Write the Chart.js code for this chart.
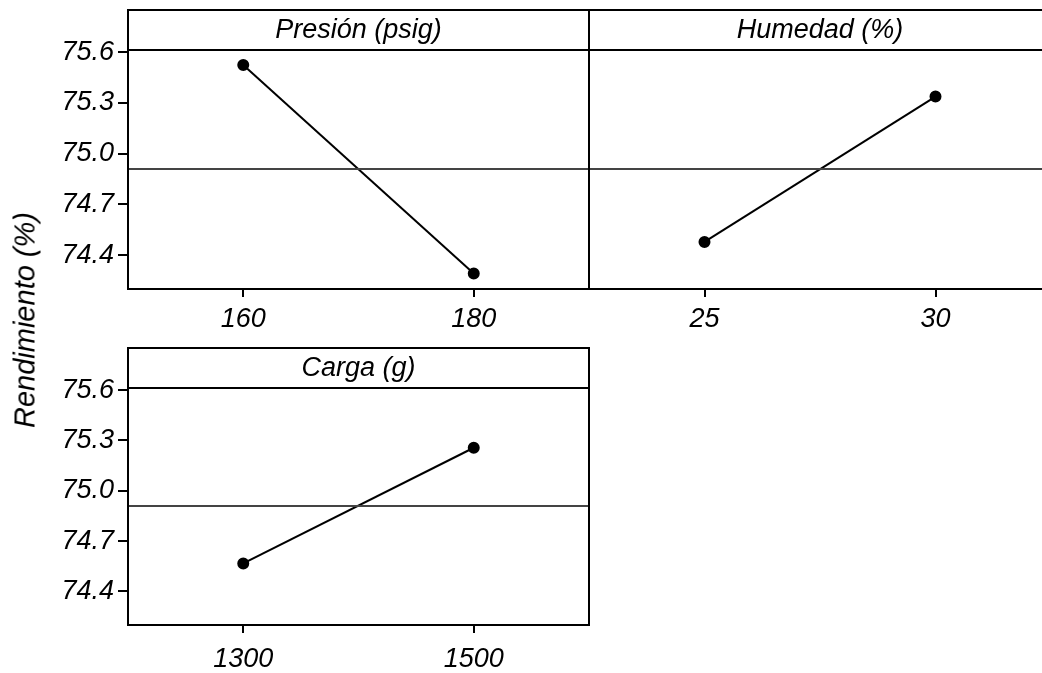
<!DOCTYPE html>
<html>
<head>
<meta charset="utf-8">
<script src="https://cdn.jsdelivr.net/npm/chart.js@4"></script>
<style>
  html, body { margin: 0; padding: 0; background: #fff; overflow: hidden; }
  body { width: 1042px; height: 673px; position: relative; }
  canvas { position: absolute; }
  #yTitulo {
    position: absolute; left: 25px; top: 320px;
    transform: translate(-50%, -50%) rotate(-90deg);
    font: italic 29px "Liberation Sans", Arial, sans-serif;
    white-space: nowrap; color: #000;
  }
</style>
</head>
<body>
<canvas id="cPresion" width="600" height="345" style="left:0;top:0"></canvas>
<canvas id="cHumedad" width="480" height="345" style="left:580px;top:0"></canvas>
<canvas id="cCarga" width="600" height="335" style="left:0;top:338px"></canvas>
<div id="yTitulo">Rendimiento (%)</div>
<script>
// Datos (medias por nivel)
const presionNiveles = [160, 180];
const presionMedias = [75.524, 74.292];
const humedadNiveles = [25, 30];
const humedadMedias = [74.478, 75.337];
const cargaNiveles = [1300, 1500];
const cargaMedias = [74.567, 75.256];
const yTicks = [74.4, 74.7, 75.0, 75.3, 75.6];
const yMin = 74.2, yMax = 75.612;

const todas = [...presionMedias, ...humedadMedias, ...cargaMedias];
const mediaGeneral = todas.reduce((a, b) => a + b, 0) / todas.length;

const FUENTE = '"Liberation Sans", Arial, sans-serif';

// marco del panel + franja con el titulo
const marcoPlugin = {
  id: 'marco',
  afterDraw(chart, args, opts) {
    const { ctx, chartArea: a } = chart;
    ctx.save();
    ctx.strokeStyle = '#000';
    ctx.lineWidth = 2;
    ctx.strokeRect(a.left, a.top, a.right - a.left, a.bottom - a.top);
    ctx.strokeRect(a.left, a.top - 40, a.right - a.left, 40);
    ctx.fillStyle = '#000';
    ctx.font = 'italic 27px ' + FUENTE;
    ctx.textAlign = 'center';
    ctx.textBaseline = 'middle';
    ctx.fillText(opts.texto, (a.left + a.right) / 2, a.top - 20);
    ctx.restore();
  }
};

function crearPanel(id, titulo, niveles, medias, cfg) {
  const lo = niveles[0], hi = niveles[niveles.length - 1];
  const xMin = lo - (hi - lo) / 2, xMax = hi + (hi - lo) / 2;
  return new Chart(document.getElementById(id), {
    type: 'line',
    data: {
      datasets: [
        {
          data: [{ x: xMin, y: mediaGeneral }, { x: xMax, y: mediaGeneral }],
          borderColor: '#444',
          borderWidth: 2,
          pointRadius: 0
        },
        {
          data: niveles.map((n, i) => ({ x: n, y: medias[i] })),
          borderColor: '#000',
          borderWidth: 2,
          pointRadius: 5,
          pointBackgroundColor: '#000',
          pointBorderColor: '#000'
        }
      ]
    },
    options: {
      responsive: false,
      animation: false,
      layout: { padding: cfg.padding },
      plugins: {
        legend: { display: false },
        tooltip: { enabled: false },
        marco: { texto: titulo }
      },
      scales: {
        x: {
          type: 'linear',
          min: xMin,
          max: xMax,
          afterBuildTicks: s => { s.ticks = niveles.map(v => ({ value: v })); },
          afterFit: s => { s.height = cfg.xAlto; },
          border: { display: false },
          grid: { drawOnChartArea: false, tickLength: 8, color: '#000', lineWidth: 2 },
          ticks: {
            color: '#000', padding: cfg.xPad, maxRotation: 0, autoSkip: false,
            font: { family: FUENTE, size: 27, style: 'italic' },
            callback: v => String(v)
          }
        },
        y: {
          display: cfg.yVisible,
          min: yMin,
          max: yMax,
          afterBuildTicks: s => { s.ticks = yTicks.map(v => ({ value: v })); },
          afterFit: s => { s.width = cfg.yVisible ? 128 : 0; },
          border: { display: false },
          grid: { drawOnChartArea: false, tickLength: 10, color: '#000', lineWidth: 2 },
          ticks: {
            color: '#000', padding: 4,
            font: { family: FUENTE, size: 27, style: 'italic' },
            callback: v => Number(v).toFixed(1)
          }
        }
      }
    },
    plugins: [marcoPlugin]
  });
}

crearPanel('cPresion', 'Presión (psig)', presionNiveles, presionMedias,
  { padding: { top: 50, right: 11, left: 0, bottom: 0 }, yVisible: true, xAlto: 56, xPad: 6 });
crearPanel('cHumedad', 'Humedad (%)', humedadNiveles, humedadMedias,
  { padding: { top: 50, right: 9, left: 9, bottom: 0 }, yVisible: false, xAlto: 56, xPad: 6 });
crearPanel('cCarga', 'Carga (g)', cargaNiveles, cargaMedias,
  { padding: { top: 50, right: 11, left: 0, bottom: 0 }, yVisible: true, xAlto: 48, xPad: 10 });
</script>
</body>
</html>
